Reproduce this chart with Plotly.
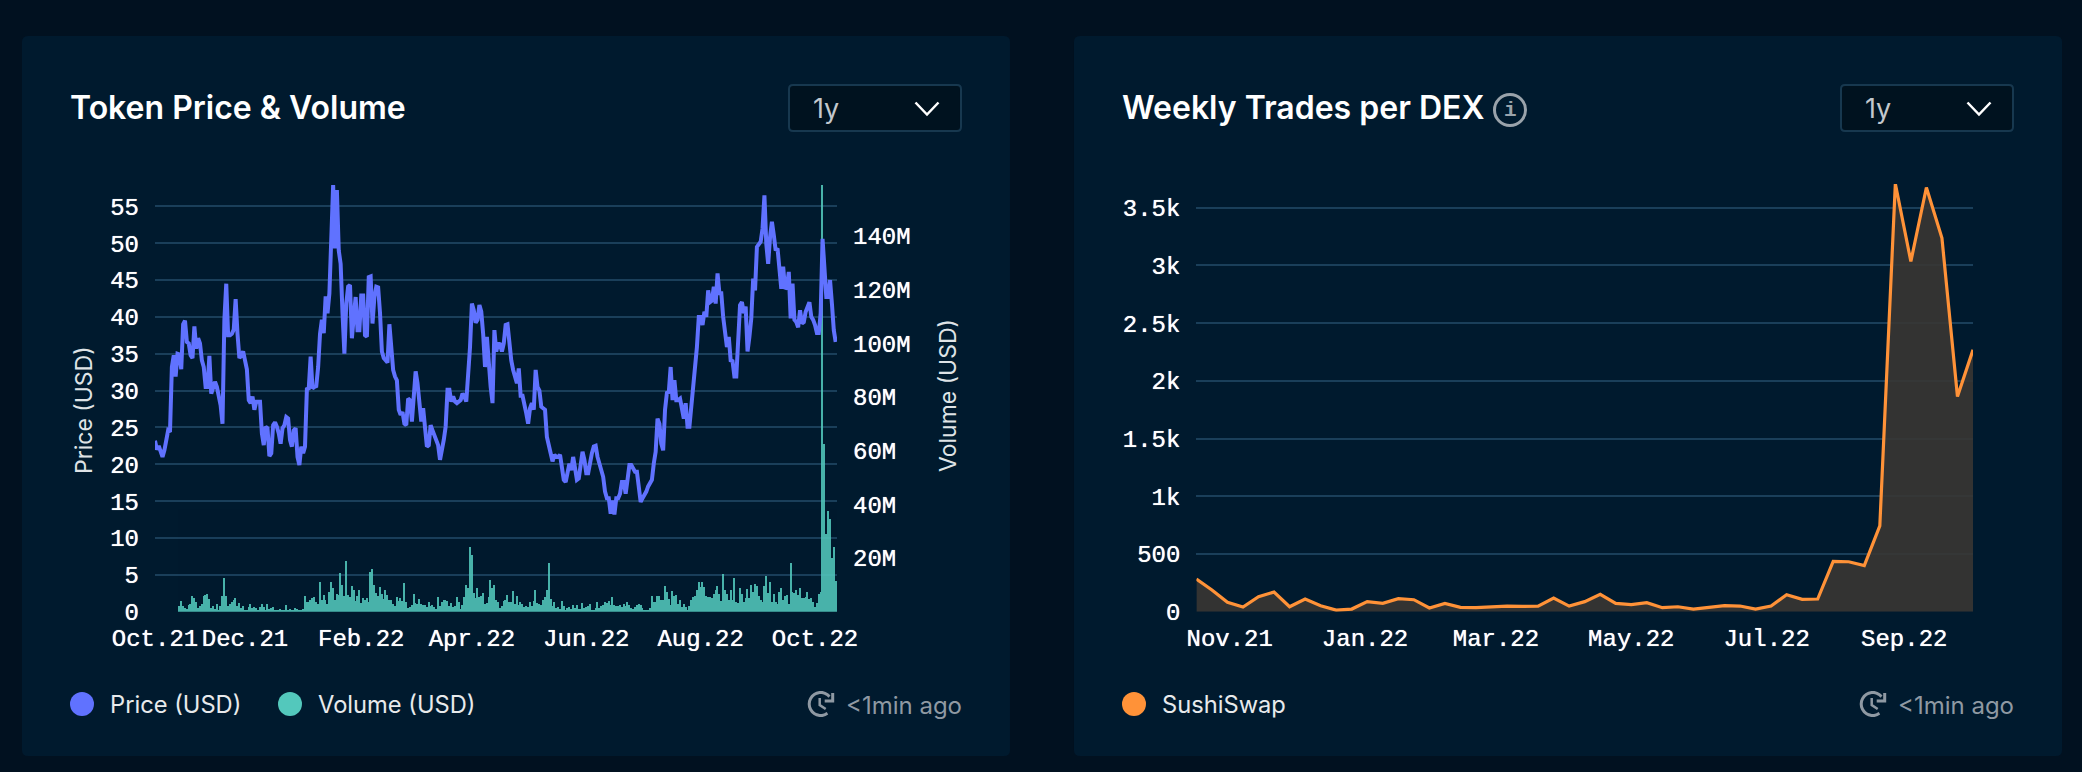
import math
import pandas as pd
import plotly.graph_objects as go

W, H = 2082, 772

# ---------- data ----------
price_usd = [
 23.2,22.0,22.5,21.7,21.0,21.9,23.4,24.6,24.4,33.2,34.8,31.9,35.0,34.9,32.9,39.0,39.5,36.6,36.4,34.8,
 34.4,38.7,35.7,37.1,36.4,34.1,33.2,30.5,30.5,34.7,29.6,30.5,31.2,30.5,29.2,28.0,25.5,39.6,44.5,37.5,
 37.5,37.7,38.3,42.4,37.7,34.4,34.8,35.3,34.1,32.9,28.7,28.3,29.2,27.4,28.5,28.5,28.5,24.2,22.6,25.1,
 24.9,21.1,21.5,25.3,25.7,25.1,24.2,22.8,24.9,25.3,26.4,26.2,23.3,22.4,24.6,24.9,21.0,19.9,22.4,21.5,
 22.4,30.2,30.3,34.6,30.3,30.5,30.6,33.2,37.7,39.6,37.8,42.8,40.5,43.2,50.8,57.9,49.3,57.2,49.0,47.2,
 40.5,35.0,41.8,44.1,44.3,37.1,40.0,42.7,38.2,38.2,42.9,42.9,37.5,37.3,45.4,45.5,39.1,42.7,44.1,44.0,
 40.5,35.3,34.4,34.1,33.8,39.0,35.5,32.8,31.9,31.4,27.4,26.7,27.1,25.5,25.3,28.9,28.7,25.8,29.2,32.6,
 31.0,28.3,25.8,27.6,24.2,22.4,22.6,25.3,24.6,24.0,23.1,22.6,20.6,21.7,23.3,25.1,30.1,30.1,28.5,29.2,
 28.5,28.3,28.5,28.7,29.6,29.2,28.5,31.9,35.9,41.8,40.9,39.2,39.6,41.6,40.7,37.7,33.2,37.3,33.2,30.5,
 28.3,38.2,35.3,36.4,36.3,35.3,36.4,38.9,39.0,35.9,34.1,32.8,31.9,31.0,33.0,29.3,29.3,28.3,26.9,25.5,
 27.6,28.3,27.4,32.8,30.5,30.0,27.8,27.6,27.4,23.7,22.2,21.5,20.4,21.3,21.0,21.0,21.3,19.0,17.9,17.6,
 19.2,20.1,19.2,21.0,19.5,17.9,18.1,19.7,21.7,20.6,18.8,18.8,20.4,21.5,22.4,22.5,21.0,20.1,19.0,18.3,
 16.3,15.4,15.4,13.3,15.1,13.2,15.4,15.4,16.0,17.6,17.6,16.0,17.9,19.9,19.9,19.5,19.0,19.0,17.2,14.9,
 15.4,15.8,16.3,17.0,17.6,17.9,20.1,21.7,26.2,25.5,22.8,21.9,27.4,29.7,29.8,33.2,28.7,31.4,28.7,28.7,
 28.9,27.1,26.2,28.3,25.1,25.1,28.3,30.5,33.2,35.9,40.0,40.0,38.9,40.7,40.0,43.6,42.0,42.2,44.1,41.8,
 45.9,43.2,43.2,40.0,37.3,35.9,37.3,34.1,34.0,31.9,31.9,36.8,41.6,42.0,40.5,41.4,35.3,37.3,39.8,45.2,
 43.6,49.5,49.9,50.2,52.0,56.5,49.9,47.2,50.8,52.9,51.1,49.0,49.3,46.8,43.8,46.8,43.8,44.1,46.1,39.8,
 44.5,39.6,39.3,38.6,40.9,39.1,39.3,40.7,41.4,42.0,40.0,39.6,38.9,37.8,37.8,40.5,50.6,46.3,42.7,42.7,
 45.0,41.8,38.2,36.6,
]

volume_millions = [
 2.2,4.0,2.2,1.2,1.0,2.5,2.7,5.8,5.0,3.7,1.2,2.2,2.7,5.8,6.2,6.7,4.7,1.2,2.2,1.0,3.0,0.7,2.2,5.8,12.4,
 5.8,2.2,2.7,3.5,4.3,5.0,2.2,3.1,1.2,2.0,0.7,0.7,1.7,2.7,1.5,1.7,1.2,0.7,1.7,2.7,1.7,0.4,2.7,1.0,1.2,
 1.7,0.3,0.5,0.4,1.0,0.7,0.5,2.5,0.6,1.0,0.7,0.6,1.5,1.0,0.5,0.5,1.0,5.8,3.5,3.5,4.3,5.0,5.6,3.5,3.0,
 10.9,4.3,6.2,4.5,3.0,7.5,10.9,8.7,4.5,6.7,6.2,14.5,9.9,5.8,18.9,6.2,5.6,9.6,8.1,4.0,5.8,8.1,3.1,5.2,
 4.5,5.0,3.7,14.7,15.8,9.9,6.8,5.8,9.3,6.7,4.7,8.1,6.2,4.5,4.3,3.0,2.2,5.5,4.0,5.0,4.0,10.8,3.5,1.5,
 1.7,2.5,6.5,3.2,3.0,4.7,3.0,2.5,2.5,1.7,3.7,2.2,2.5,1.7,1.0,5.5,2.0,3.5,4.2,4.5,4.0,2.0,3.2,1.7,2.0,
 5.5,3.5,1.0,2.5,5.5,9.9,8.7,24.0,21.1,6.8,5.2,8.7,5.6,5.7,7.0,3.0,3.2,
 5.6,11.8,8.7,9.9,4.5,3.7,1.2,2.2,4.0,4.5,6.2,3.5,3.5,7.7,2.7,5.7,2.5,3.7,2.7,1.7,2.0,1.7,3.5,2.0,4.0,
 8.1,3.2,3.0,2.5,4.5,5.5,8.1,18.0,4.7,2.0,3.5,1.2,1.7,1.0,4.0,2.0,0.7,1.2,1.7,1.0,2.5,1.5,2.5,1.0,1.0,
 3.2,1.5,1.7,2.0,2.7,0.6,0.6,1.2,3.5,1.5,2.0,2.5,3.5,3.2,4.0,2.5,5.5,2.5,2.2,2.2,2.5,1.7,2.7,2.0,3.7,
 2.5,1.2,1.0,1.7,2.5,2.7,2.5,1.2,0.5,0.4,0.5,1.2,5.7,3.7,3.7,5.7,5.7,4.5,4.5,9.7,7.5,4.7,2.5,7.7,6.0,
 6.2,3.0,4.5,1.7,3.0,1.7,0.3,2.0,4.2,5.5,6.0,8.2,11.2,9.2,11.2,9.3,6.0,5.5,5.5,5.0,6.7,8.0,9.4,6.7,4.0,
 13.9,8.0,6.5,4.5,8.2,4.5,12.4,3.5,3.2,8.7,6.5,3.7,5.0,8.4,5.2,9.9,7.2,10.2,9.7,6.0,4.5,3.5,9.4,13.4,
 7.0,10.9,3.7,6.7,3.7,2.7,7.2,8.9,4.5,6.0,6.2,2.7,18.0,7.5,7.0,8.2,6.2,8.7,5.0,5.2,5.5,7.2,4.7,5.2,3.7,
 1.7,3.2,6.5,7.2,159.0,62.5,29.0,37.5,34.5,20.0,24.0,11.4,
]

weekly_trades = [
 283,188,81,40,130,170,43,110,52,14,23,87,72,113,104,32,72,38,35,43,49,46,49,118,49,87,150,72,61,78,
 35,43,23,38,52,49,23,49,147,107,110,436,433,399,743,3708,3035,3676,3237,1864,2269,
]

price_ticks = [0, 5, 10, 15, 20, 25, 30, 35, 40, 45, 50, 55]
volume_ticks = [20, 40, 60, 80, 100, 120, 140]
volume_labels = ["20M", "40M", "60M", "80M", "100M", "120M", "140M"]
price_x_ticks = ["2021-10-14", "2021-12-01", "2022-02-01", "2022-04-01", "2022-06-01", "2022-08-01", "2022-10-01"]
price_x_labels = ["Oct.21", "Dec.21", "Feb.22", "Apr.22", "Jun.22", "Aug.22", "Oct.22"]
trade_ticks = [0, 500, 1000, 1500, 2000, 2500, 3000, 3500]
trade_labels = ["0", "500", "1k", "1.5k", "2k", "2.5k", "3k", "3.5k"]
trade_x_ticks = ["2021-11-01", "2022-01-01", "2022-03-01", "2022-05-01", "2022-07-01", "2022-09-01"]
trade_x_labels = ["Nov.21", "Jan.22", "Mar.22", "May.22", "Jul.22", "Sep.22"]

price_dates = pd.date_range(start="2021-10-14", periods=len(price_usd), freq="D")
volume_dates = pd.date_range(end=price_dates[-1], periods=len(volume_millions), freq="D")
trade_dates = pd.date_range(start="2021-10-17", periods=len(weekly_trades), freq="7D")

# ---------- style ----------
PAGE = "#011120"
CARD = "#001a2e"
GRID = "#1a3f5a"
BLUE = "#6072ff"
TEAL = "#53c8bc"
ORANGE = "#ff9238"
GREY = "#8f99a3"
MONO = "Liberation Mono"
SANS = "Inter"

def fx(x):
    return x / W

def fy(y):
    return 1 - y / H

shapes = []
annotations = []

def poly(points, color, width, close=False, fill=None):
    d = "M " + " L ".join(f"{fx(a):.6f},{fy(b):.6f}" for a, b in points)
    if close:
        d += " Z"
    shapes.append(dict(type="path", xref="paper", yref="paper", path=d, layer="below",
                       line=dict(color=color, width=width), fillcolor=fill or "rgba(0,0,0,0)"))

def round_rect(x0, y0, x1, y1, r, fill, border=None, bw=0):
    def c(a, b):
        return f"{fx(a):.6f},{fy(b):.6f}"
    d = (f"M {c(x0+r,y0)} L {c(x1-r,y0)} Q {c(x1,y0)} {c(x1,y0+r)} L {c(x1,y1-r)} Q {c(x1,y1)} {c(x1-r,y1)} "
         f"L {c(x0+r,y1)} Q {c(x0,y1)} {c(x0,y1-r)} L {c(x0,y0+r)} Q {c(x0,y0)} {c(x0+r,y0)} Z")
    shapes.append(dict(type="path", xref="paper", yref="paper", path=d, layer="below", fillcolor=fill,
                       line=dict(color=border or fill, width=bw)))

def dot(cx, cy, r, color):
    shapes.append(dict(type="circle", xref="paper", yref="paper", layer="below", fillcolor=color,
                       x0=fx(cx - r), x1=fx(cx + r), y0=fy(cy + r), y1=fy(cy - r), line=dict(width=0)))

def text(x, y, s, size, color, family=SANS, weight=400, anchor="left", angle=0):
    annotations.append(dict(xref="paper", yref="paper", x=fx(x), y=fy(y), text=s, showarrow=False,
                            xanchor=anchor, yanchor="middle", textangle=angle, borderpad=0, borderwidth=0,
                            font=dict(size=size, color=color, family=family, weight=weight)))

def clock(cx, cy):
    r = 11.5
    arc = [(cx + r * math.cos(math.radians(a)), cy + r * math.sin(math.radians(a))) for a in range(-40, -320, -14)]
    poly(arc, GREY, 3)
    poly([(cx + 12, cy - 11), (cx + 12, cy - 3), (cx + 4, cy - 3)], GREY, 3)
    poly([(cx - 1, cy - 6), (cx - 1, cy + 1), (cx + 5, cy + 5)], GREY, 2.5)

OFFSET = 1052
for off in (0, OFFSET):
    round_rect(22 + off, 36, 1010 + off, 756, 6, CARD)
    round_rect(789 + off, 85, 961 + off, 131, 4, "#00121f", "#17384f", 2)
    text(812.5 + off, 108, "1y", 27, "#c3c8cd")
    poly([(915.5 + off, 102.5), (927 + off, 114.5), (938.5 + off, 102.5)], "#ffffff", 2.5)
    clock(820.7 + off, 704)
    text(845.5 + off, 705, "&lt;1min ago", 24, GREY)

text(70, 107, "Token Price &amp; Volume", 32, "#ffffff", weight=600)
text(1122, 107, "Weekly Trades per DEX", 32, "#ffffff", weight=600)
shapes.append(dict(type="circle", xref="paper", yref="paper", layer="below", x0=fx(1494.5), x1=fx(1525.5),
                   y0=fy(125.5), y1=fy(94.5), line=dict(color="#9aa3ab", width=3), fillcolor="rgba(0,0,0,0)"))
text(1510, 110, "i", 21, "#9aa3ab", family="Liberation Mono", weight=700, anchor="center")

dot(82, 704, 12, BLUE)
text(110, 704, "Price (USD)", 23.7, "#e8eaec")
dot(290, 704, 12, TEAL)
text(317.5, 704, "Volume (USD)", 23.7, "#e8eaec")
dot(1134, 704, 12, ORANGE)
text(1161.5, 704, "SushiSwap", 23.7, "#e8eaec")

text(84, 410, "Price (USD)", 23, "#dfe3e6", anchor="center", angle=-90)
text(948, 396, "Volume (USD)", 23, "#dfe3e6", anchor="center", angle=-90)

# ---------- figure ----------
fig = go.Figure()
fig.add_trace(go.Bar(x=volume_dates, y=volume_millions, name="Volume (USD)", marker=dict(color=TEAL, line=dict(width=0)),
                     width=0.7 * 86400000, opacity=0.88, xaxis="x", yaxis="y", showlegend=False))
fig.add_trace(go.Scatter(x=price_dates, y=price_usd, name="Price (USD)", mode="lines",
                         line=dict(color=BLUE, width=4), xaxis="x", yaxis="y2", showlegend=False))
fig.add_trace(go.Scatter(x=trade_dates, y=weekly_trades, name="SushiSwap", mode="lines", fill="tozeroy",
                         fillcolor="rgba(57,54,51,0.9)", line=dict(color=ORANGE, width=3.2), xaxis="x2", yaxis="y3",
                         showlegend=False))

tick_font = dict(family=MONO, size=24, color="#ffffff", shadow="0 0 0.7px #ffffff")
y_dom = [fy(611.7), fy(184)]

fig.update_layout(
    width=W, height=H, autosize=False, margin=dict(l=0, r=0, t=0, b=0, pad=0),
    paper_bgcolor=PAGE, plot_bgcolor="rgba(0,0,0,0)", showlegend=False, bargap=0,
    shapes=shapes, annotations=annotations, hovermode=False,
    xaxis=dict(domain=[fx(155), fx(837)], range=["2021-10-14", "2022-10-12 17:00"], type="date", anchor="y",
               tickmode="array", tickvals=price_x_ticks, ticktext=price_x_labels, tickfont=tick_font,
               showgrid=False, zeroline=False, showline=False, ticks="", ticklabelstandoff=9, tickangle=0,
               automargin=False),
    yaxis=dict(domain=y_dom, range=[0, 159.3], side="right", anchor="x", tickmode="array",
               tickvals=volume_ticks, ticktext=volume_labels, tickfont=tick_font, showgrid=False, zeroline=False,
               showline=False, ticks="", ticklabelstandoff=15, automargin=False),
    yaxis2=dict(domain=y_dom, range=[0, 58.03], side="left", overlaying="y", anchor="x", tickmode="array",
                tickvals=price_ticks, tickfont=tick_font, showgrid=True, gridcolor=GRID, gridwidth=2,
                zeroline=False, showline=False, ticks="", ticklabelstandoff=15, automargin=False),
    xaxis2=dict(domain=[fx(1196.4), fx(1973)], range=["2021-10-17", "2022-10-02"], type="date", anchor="y3",
                tickmode="array", tickvals=trade_x_ticks, ticktext=trade_x_labels, tickfont=tick_font,
                showgrid=False, zeroline=False, showline=False, ticks="", ticklabelstandoff=9, tickangle=0,
                automargin=False),
    yaxis3=dict(domain=y_dom, range=[0, 3706], anchor="x2", tickmode="array", tickvals=trade_ticks,
                ticktext=trade_labels, tickfont=tick_font, showgrid=True, gridcolor=GRID, gridwidth=2,
                zeroline=False, showline=False, ticks="", ticklabelstandoff=15, automargin=False),
)

fig.write_html("out.html", config=dict(displayModeBar=False),
               post_script="document.body.style.margin='0';document.body.style.background='%s';" % PAGE)
